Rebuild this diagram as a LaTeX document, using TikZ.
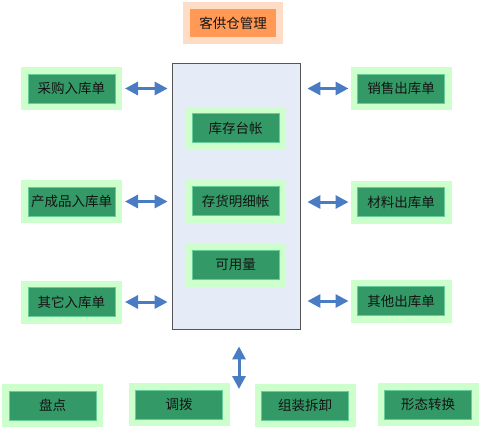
\documentclass[tikz,border=0pt]{standalone}
\usepackage{fontspec}
\newfontfamily\cjk{Noto Sans CJK SC}
\usetikzlibrary{arrows.meta}

\definecolor{boxgreen}{HTML}{339966}
\definecolor{boxedge}{HTML}{66CC99}
\definecolor{palegreen}{HTML}{CCFFCC}
\definecolor{titleorange}{HTML}{FF9955}
\definecolor{peach}{HTML}{FFDCC6}
\definecolor{stockblue}{HTML}{E6ECF7}
\definecolor{framegray}{HTML}{555555}
\definecolor{arrowblue}{HTML}{4A7CC4}
\definecolor{inktext}{HTML}{141414}

\begin{document}
\begin{tikzpicture}[x=1pt,y=-1pt]
\tikzstyle{every node}=[font=\cjk\fontsize{13.5}{16}\selectfont, text=inktext]
\tikzstyle{greenbox}=[fill=boxgreen, draw=boxedge, line width=0.6pt, minimum width=87pt, minimum height=29pt, inner sep=0pt, outer sep=7pt, preaction={draw=palegreen, line width=14pt}]
\tikzstyle{titlebox}=[fill=titleorange, minimum width=86pt, minimum height=28pt, inner sep=0pt, outer sep=7pt, preaction={draw=peach, line width=14pt}]
\tikzstyle{twoway}=[{Triangle[length=13pt,width=13pt]}-{Triangle[length=13pt,width=13pt]}, line width=3pt, draw=arrowblue]

% fix the page size
\useasboundingbox (0,0) rectangle (480,429);

% title
\node[titlebox] (title) at (233,23) {客供仓管理};

% stock frame with its three books
\node[draw=framegray, fill=stockblue, line width=0.8pt, minimum width=128pt, minimum height=266pt, inner sep=0pt] (stock) at (236,196) {};
\foreach \y/\name/\label in {128/ledger/库存台帐, 201/detail/存货明细帐, 265/avail/可用量}
	\node[greenbox] (\name) at (235.5,\y) {\label};

% receipts on the left
\foreach \y/\i/\label in {88.5/1/采购入库单, 201.5/2/产成品入库单, 302/3/其它入库单}
{
	\node[greenbox] (in\i) at (71.5,\y) {\label};
	\draw[twoway, shorten <=3pt, shorten >=4pt] (in\i.east) -- (stock.west |- in\i.east);
}

% issues on the right
\foreach \y/\i/\label in {88.5/1/销售出库单, 202/2/材料出库单, 301/3/其他出库单}
{
	\node[greenbox] (out\i) at (401,\y) {\label};
	\draw[twoway, shorten <=7pt, shorten >=2pt] (stock.east |- out\i.west) -- (out\i.west);
}

% other movements along the bottom
\foreach \x/\y/\i/\label in {52.5/405.5/1/盘点, 179/404.5/2/调拨, 305/405.5/3/组装拆卸, 428/404.5/4/形态转换}
	\node[greenbox] (misc\i) at (\x,\y) {\label};

\coordinate (vend) at (239,389);
\draw[twoway, shorten <=17pt] (stock.south -| vend) -- (vend);

\end{tikzpicture}
\end{document}
